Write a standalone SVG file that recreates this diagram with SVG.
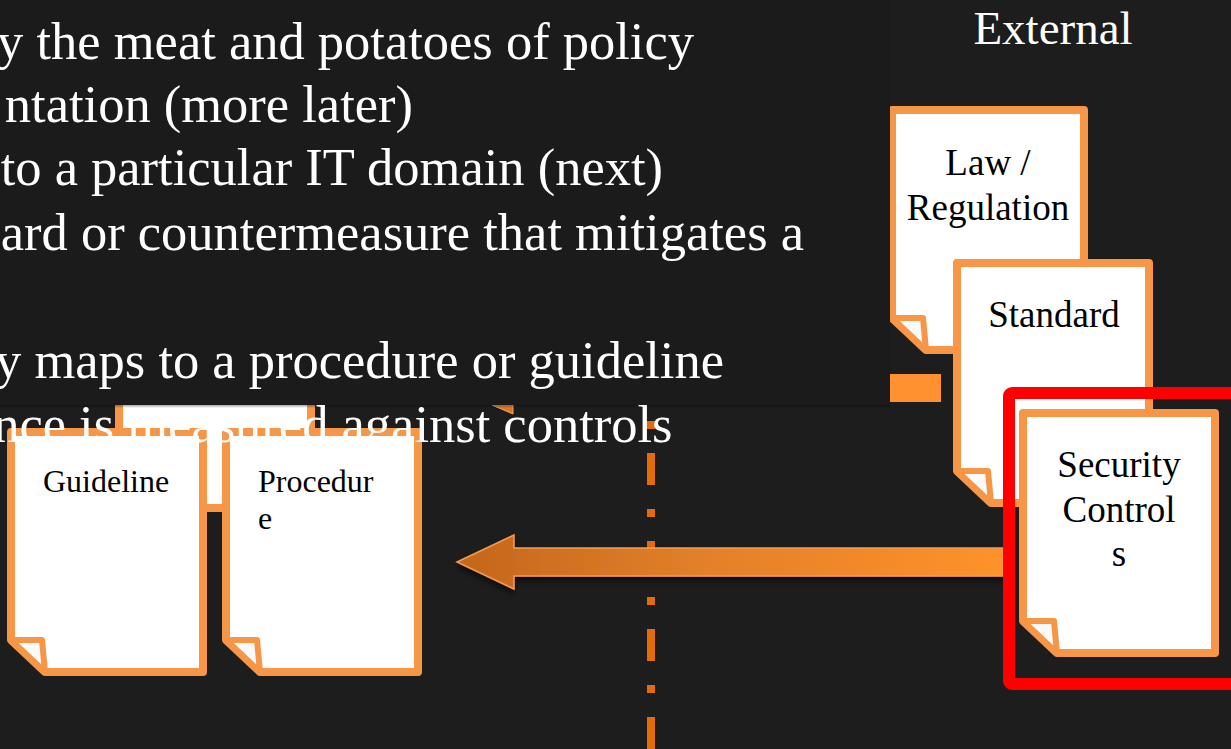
<svg xmlns="http://www.w3.org/2000/svg" xmlns:xlink="http://www.w3.org/1999/xlink" width="1231" height="749" viewBox="0 0 1231 749">
  <style>
    .doc { fill: #FFFFFF; stroke: #F79646; stroke-width: 8; stroke-linejoin: round; }
    .flap { fill: #FAFAFA; stroke: #F79646; stroke-width: 6; stroke-linejoin: round; }
    .body { font-family: 'Liberation Serif', 'Times New Roman', serif; font-size: 52.5px; fill: #FFFFFF; }
    .label { font-family: 'Liberation Serif', 'Times New Roman', serif; font-size: 37px; fill: #000000; text-anchor: middle; }
    .small { font-family: 'Liberation Serif', 'Times New Roman', serif; font-size: 32px; fill: #000000; }
    .heading { font-family: 'Liberation Serif', 'Times New Roman', serif; font-size: 47px; fill: #FFFFFF; text-anchor: middle; }
  </style>
  <defs>
    <!-- page with a folded bottom-left corner, 192 x 240 on the stroke centre line -->
    <path id="pageBody" d="M0,0 H192 V240 H34 L0,208 Z"/>
    <path id="pageFlap" d="M0,208 H31 L34,240 Z"/>
    <linearGradient id="arrowFill" x1="457" y1="0" x2="1008" y2="0" gradientUnits="userSpaceOnUse">
      <stop offset="0" stop-color="#C4661C"/>
      <stop offset="0.45" stop-color="#E3802A"/>
      <stop offset="1" stop-color="#FF922B"/>
    </linearGradient>
    <linearGradient id="panelEdge" x1="0" y1="0" x2="0" y2="1">
      <stop offset="0" stop-color="#000000" stop-opacity="0.35"/>
      <stop offset="1" stop-color="#000000" stop-opacity="0"/>
    </linearGradient>
    <filter id="arrowShadow" x="-5%" y="-40%" width="110%" height="190%">
      <feDropShadow dx="0" dy="4" stdDeviation="3" flood-color="#000000" flood-opacity="0.55"/>
    </filter>
  </defs>

  <!-- backdrop -->
  <rect x="0" y="0" width="1231" height="749" fill="#1D1D1D"/>

  <!-- dash-dot divider -->
  <line id="divider" x1="651" y1="365" x2="651" y2="749" stroke="#E36C09" stroke-width="8" stroke-dasharray="32 24 8 24"/>

  <!-- partly hidden shapes from underneath the text panel -->
  <g id="hidden-page" transform="translate(119,268)">
    <use xlink:href="#pageBody" class="doc"/>
    <use xlink:href="#pageFlap" class="flap"/>
  </g>
  <polygon id="hidden-tip" points="492,405 513,405 513,414" fill="#DB7A2C" stroke="#F5A45E" stroke-width="1"/>
  <rect id="hidden-bar" x="860" y="374" width="81" height="28" fill="#FF9130"/>

  <!-- connectors -->
  <g id="connectors">
    <path id="flow-arrow" d="M457,562 L514,535 L514,548 L1008,548 L1008,576 L514,576 L514,589 Z"
          fill="url(#arrowFill)" stroke="#F59A52" stroke-width="1.5" stroke-linejoin="miter" filter="url(#arrowShadow)"/>
  </g>

  <!-- external documents -->
  <g id="node-law" transform="translate(892,110)">
    <use xlink:href="#pageBody" class="doc"/>
    <use xlink:href="#pageFlap" class="flap"/>
    <text class="label" x="96" y="65">Law /</text>
    <text class="label" x="96" y="110">Regulation</text>
  </g>
  <g id="node-standard" transform="translate(957,263)">
    <use xlink:href="#pageBody" class="doc"/>
    <use xlink:href="#pageFlap" class="flap"/>
    <text class="label" x="97" y="64">Standard</text>
  </g>
  <rect id="highlight" x="1009" y="393" width="240" height="291" rx="3" fill="none" stroke="#FF0000" stroke-width="12"/>
  <g id="node-controls" transform="translate(1023,413)">
    <use xlink:href="#pageBody" class="doc"/>
    <use xlink:href="#pageFlap" class="flap"/>
    <text class="label" x="96" y="64">Security</text>
    <text class="label" x="96" y="108.5">Control</text>
    <text class="label" x="96" y="152.5">s</text>
  </g>

  <!-- internal documents -->
  <g id="node-guideline" transform="translate(11,432)">
    <use xlink:href="#pageBody" class="doc"/>
    <use xlink:href="#pageFlap" class="flap"/>
    <text class="small" x="32" y="59.7">Guideline</text>
  </g>
  <g id="node-procedure" transform="translate(226,432)">
    <use xlink:href="#pageBody" class="doc"/>
    <use xlink:href="#pageFlap" class="flap"/>
    <text class="small" x="32" y="59.7">Procedur</text>
    <text class="small" x="32" y="96.5">e</text>
  </g>

  <!-- text panel with a soft lower edge -->
  <rect id="text-panel" x="0" y="0" width="890" height="405" fill="#1B1B1B"/>
  <rect x="0" y="405" width="890" height="3" fill="url(#panelEdge)"/>

  <g id="bullets" class="body" text-anchor="end">
    <text x="694" y="59.3">y the meat and potatoes of policy</text>
    <text x="413" y="121.7">ntation (more later)</text>
    <text x="663" y="185">to a particular IT domain (next)</text>
    <text x="804" y="249.5">ard or countermeasure that mitigates a</text>
    <text x="724" y="378">y maps to a procedure or guideline</text>
    <text x="672.5" y="441.7">nce is measured against controls</text>
  </g>

  <text id="external-heading" class="heading" x="1053" y="43.5">External</text>
</svg>
